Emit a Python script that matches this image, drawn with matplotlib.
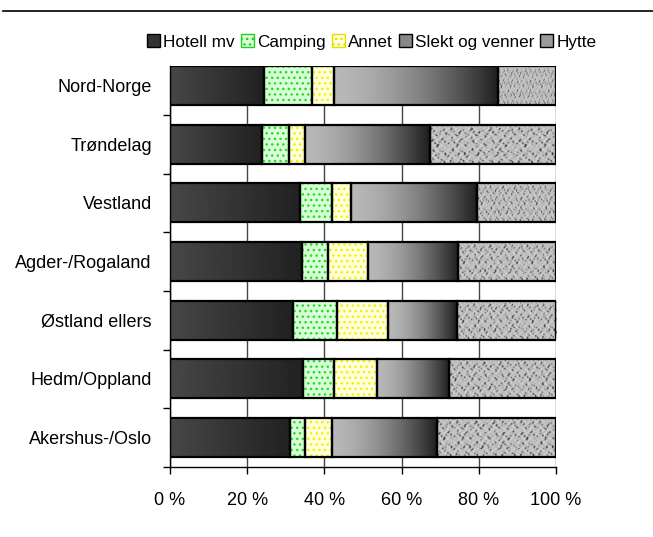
import numpy as np
import matplotlib
matplotlib.use("Agg")
import matplotlib.pyplot as plt
from matplotlib.patches import Patch
from matplotlib.lines import Line2D

plt.rcParams['font.family'] = ['Liberation Sans', 'DejaVu Sans']

# Data (andel i prosent)
regioner = ['Akershus-/Oslo', 'Hedm/Oppland', 'Østland ellers', 'Agder-/Rogaland',
            'Vestland', 'Trøndelag', 'Nord-Norge']
hotell = [31.2, 34.5, 31.8, 34.3, 33.7, 23.8, 24.4]
camping = [3.9, 7.9, 11.5, 6.6, 8.2, 6.9, 12.3]
annet = [6.8, 11.1, 13.2, 10.3, 4.9, 4.4, 5.7]
slekt = [27.4, 18.8, 17.8, 23.5, 32.8, 32.3, 42.7]
hytte = [30.7, 27.7, 25.7, 25.3, 20.4, 32.6, 14.9]
serier = ['Hotell mv', 'Camping', 'Annet', 'Slekt og venner', 'Hytte']
xticks = [0, 20, 40, 60, 80, 100]

fig = plt.figure(figsize=(6.53, 5.37), dpi=100)
ax = fig.add_axes([170 / 653, 70 / 537, 386 / 653, 401 / 537])

y = np.arange(len(regioner))
h = 0.665

# teksturer
t = np.linspace(0, 1, 200)
grad_hotell = (0.28 - 0.15 * t)[None, :]
grad_slekt = (0.72 - 0.6 * t ** 1.6)[None, :]
gx, gy = np.meshgrid(np.linspace(0, 90, 300), np.linspace(0, 14, 50))
granitt = (np.sin(gx * 1.3 + np.cos(gy * 2.1) * 3) + np.sin(gy * 1.7 + np.sin(gx * 0.9) * 2)
           + 0.8 * np.sin(gx * 2.3 + gy * 1.9) * np.cos(gy * 0.7 - gx * 0.4))
granitt = granitt / 3.5
granitt = np.where(granitt < -0.45, 0.35 + granitt * 0.2, 0.74 + 0.14 * granitt)


def tekstur(bars, bilde, vmin=0, vmax=1):
    for b in bars:
        x0, y0 = b.get_x(), b.get_y()
        im = ax.imshow(bilde, cmap='gray', vmin=vmin, vmax=vmax, aspect='auto',
                       extent=[x0, x0 + b.get_width(), y0, y0 + b.get_height()],
                       interpolation='bilinear', zorder=2)
        im.set_clip_path(b)


venstre = np.zeros(len(regioner))
b1 = ax.barh(y, hotell, h, left=venstre, color='#333333', lw=0, zorder=2)
tekstur(b1, grad_hotell)
venstre += hotell
ax.barh(y, camping, h, left=venstre, color='#d9ffd9', edgecolor='#22dd22', hatch='...', lw=0, zorder=2)
venstre += camping
ax.barh(y, annet, h, left=venstre, color='#ffffdd', edgecolor='#f0f000', hatch='...', lw=0, zorder=2)
venstre += annet
b4 = ax.barh(y, slekt, h, left=venstre, color='#888888', lw=0, zorder=2)
tekstur(b4, grad_slekt)
venstre += slekt
b5 = ax.barh(y, hytte, h, left=venstre, color='#aaaaaa', lw=0, zorder=2)
tekstur(b5, granitt)

# svarte kanter rundt hvert segment
venstre = np.zeros(len(regioner))
for serie in [hotell, camping, annet, slekt, hytte]:
    ax.barh(y, serie, h, left=venstre, fill=False, edgecolor='black', lw=1.6, zorder=3)
    venstre += serie

ax.set_xlim(0, 100)
ax.set_ylim(-0.5, len(regioner) - 1 + h / 2)
ax.set_xticks(xticks)
ax.set_xticklabels([f'{v} %' for v in xticks], fontsize=13)
ax.set_yticks(y)
ax.set_yticklabels(regioner, fontsize=13)
ax.set_yticks(np.arange(-0.5, len(regioner) - 1, 1), minor=True)
ax.tick_params(axis='y', which='major', length=0, pad=13)
ax.tick_params(axis='y', which='minor', length=5, direction='out', width=1)
ax.tick_params(axis='x', length=5, direction='out', width=1, pad=13)
ax.grid(axis='x', color='#444444', lw=1, zorder=0)
ax.set_axisbelow(True)
for s in ['top', 'right']:
    ax.spines[s].set_visible(False)
ax.spines['left'].set_linewidth(1)
ax.spines['bottom'].set_linewidth(1)

# legende
handles = [
    Patch(facecolor='#333333', edgecolor='black'),
    Patch(facecolor='#d9ffd9', edgecolor='#22cc22', hatch='...'),
    Patch(facecolor='#ffffdd', edgecolor='#e0e000', hatch='...'),
    Patch(facecolor='#888888', edgecolor='black'),
    Patch(facecolor='#9a9a9a', edgecolor='black'),
]
fig.legend(handles, serier, loc='center', bbox_to_anchor=(372 / 653, 1 - 42 / 537), ncol=5,
           frameon=False, fontsize=12.3, handlelength=0.75, handleheight=0.75,
           handletextpad=0.2, columnspacing=0.35, borderaxespad=0)

# linje øverst
fig.add_artist(Line2D([3 / 653, 1], [1 - 11 / 537] * 2, color='black', lw=1.2))

fig.savefig('out.png', dpi=100)
